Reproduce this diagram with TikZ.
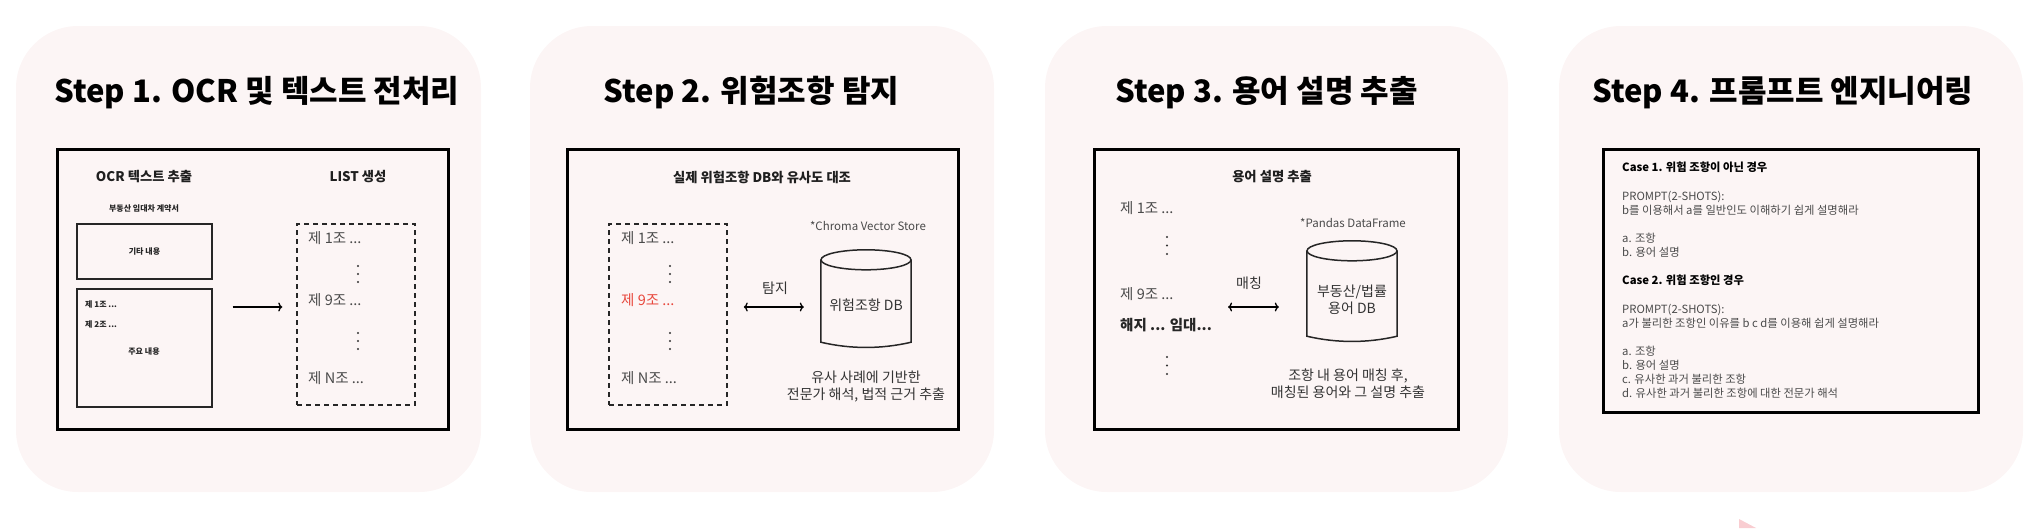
\documentclass[tikz,border=0pt]{standalone}
\usepackage{fontspec}
\setmainfont{Noto Sans CJK KR}
\usetikzlibrary{arrows.meta,positioning}
\definecolor{panelbg}{HTML}{FCF5F5}
\definecolor{txtgrey}{HTML}{4A4A4A}
\definecolor{hitred}{HTML}{E8483D}
\definecolor{tippink}{HTML}{F9CDD1}
\newcommand{\fsz}[2]{\fontsize{#1}{#2}\selectfont}
\tikzset{%
   panel/.style={
      fill=panelbg,
      rounded corners=62pt
   },
   title/.style={
      font=\fsz{31pt}{34pt}\bfseries,
      inner sep=0pt
   },
   frame/.style={
      draw=black,
      line width=3pt
   },
   head/.style={
      font=\fsz{13.3pt}{16pt}\bfseries,
      text=black!88,
      inner sep=0pt
   },
   tiny/.style={
      font=\fsz{8pt}{10pt}\bfseries,
      text=black!85,
      inner sep=0pt
   },
   sbox/.style={
      draw=black!85,
      line width=1.4pt
   },
   dbox/.style={
      draw=black!85,
      line width=1.5pt,
      dash pattern=on 5pt off 4pt
   },
   item/.style={
      font=\fsz{14.5pt}{17pt},
      text=txtgrey,
      anchor=west,
      inner sep=0pt
   },
   body/.style={
      font=\fsz{14pt}{17pt},
      text=black!80,
      align=center,
      inner sep=0pt
   },
   note/.style={
      font=\fsz{11.5pt}{13pt},
      text=txtgrey,
      inner sep=0pt
   },
   dbcyl/.style={
      minimum width=90pt,
      inner sep=0pt
   },
   cylline/.style={
      draw=black!85,
      line width=1.5pt
   },
   arr/.style={
      -{To[length=4pt,width=9pt]},
      line width=1.3pt
   },
   biarr/.style={
      {To[length=4pt,width=9pt]}-{To[length=4pt,width=9pt]},
      line width=1.3pt
   },
   vdot/.style={
      fill=black!80
   }
}

\begin{document}
\begin{tikzpicture}[x=1pt, y=-1pt]
\useasboundingbox (0,0) rectangle (2040,528);

% Step 1
\fill[panel] (16,26) rectangle (481,492);
\node[title] (t1) at (257,93) {Step 1. OCR 및 텍스트 전처리};
\draw[frame] (57,149) rectangle (448,429);
\node[head] (ocr) at (144,177) {OCR 텍스트 추출};
\node[head] (lst) at (358,177) {LIST 생성};
\node[tiny] (doc) at (144,209) {부동산 임대차 계약서};
\node[sbox, minimum width=135pt, minimum height=55pt] (etc) at (144.5,251.5) {};
\node[tiny] (etclbl) at (etc) {기타 내용};
\node[sbox, minimum width=135pt, minimum height=118pt] (main) at (144.5,348) {};
\node[tiny, anchor=west] (p1) at (85,304) {제 1조 ...};
\node[tiny, anchor=west] (p2) at (85,324) {제 2조 ...};
\node[tiny] (mainlbl) at (144,352) {주요 내용};
\node[dbox, minimum width=118pt, minimum height=181pt] (list) at (356,314.5) {};
\node[item] (l1) at (308,238) {제 1조 ...};
\node[item] (l9) at (308,300) {제 9조 ...};
\node[item] (ln) at (308,378) {제 N조 ...};
\foreach \y in {266,274,282,333,341,349} \fill[vdot] (358,\y) circle (1.1pt);
\draw[arr, transform canvas={yshift=-7pt}, shorten <=20pt, shorten >=14pt] (main.east |- l9) -- (list.west |- l9);

% Step 2
\fill[panel] (530,26) rectangle (994,492);
\node[title] (t2) at (751.5,93) {Step 2. 위험조항 탐지};
\draw[frame] (567,149) rectangle (958,429);
\node[head] (cmp) at (762,177) {실제 위험조항 DB와 유사도 대조};
\node[dbox, minimum width=118pt, minimum height=181pt] (cand) at (668,314.5) {};
\node[item] (c1) at (621,238) {제 1조 ...};
\node[item, text=hitred] (c9) at (621,300) {제 9조 ...};
\node[item] (cn) at (621,378) {제 N조 ...};
\foreach \y in {266,274,282,333,341,349} \fill[vdot] (670,\y) circle (1.1pt);
\node[note] (chroma) at (868,226) {*Chroma Vector Store};
\node[dbcyl, minimum height=99pt] (riskdb) at (866,299.5) {};
\draw[cylline] ([yshift=-10pt]riskdb.north) ellipse [x radius=45pt, y radius=10pt];
\draw[cylline] ([yshift=-10pt]riskdb.north west) -- ([yshift=7pt]riskdb.south west)
   .. controls ([xshift=30pt]riskdb.south west) and ([xshift=-30pt]riskdb.south east) .. ([yshift=7pt]riskdb.south east)
   -- ([yshift=-10pt]riskdb.north east);
\node[body] (risklbl) at (866,305) {위험조항 DB};
\node[body] (detect) at (775,288) {탐지};
\draw[biarr, transform canvas={yshift=-2pt}, shorten <=16pt, shorten >=17pt] (cand.east |- risklbl) -- (riskdb.west |- risklbl);
\node[body] (expl) at (866,386.5) {유사 사례에 기반한\\전문가 해석, 법적 근거 추출};

% Step 3
\fill[panel] (1045,26) rectangle (1508,492);
\node[title] (t3) at (1266.5,93) {Step 3. 용어 설명 추출};
\draw[frame] (1094,149) rectangle (1458,429);
\node[head] (term) at (1272,177) {용어 설명 추출};
\node[item] (a1) at (1120,208) {제 1조 ...};
\node[item] (a9) at (1120,294) {제 9조 ...};
\node[item, font=\fsz{14.5pt}{17pt}\bfseries, text=black!85] (hit) at (1120,325) {해지 ... 임대...};
\foreach \y in {237,245.5,254,357,365.5,374} \fill[vdot] (1167,\y) circle (1.1pt);
\node[note] (pandas) at (1353,223) {*Pandas DataFrame};
\node[dbcyl, minimum height=102pt] (termdb) at (1352,292) {};
\draw[cylline] ([yshift=-10pt]termdb.north) ellipse [x radius=45pt, y radius=10pt];
\draw[cylline] ([yshift=-10pt]termdb.north west) -- ([yshift=7pt]termdb.south west)
   .. controls ([xshift=30pt]termdb.south west) and ([xshift=-30pt]termdb.south east) .. ([yshift=7pt]termdb.south east)
   -- ([yshift=-10pt]termdb.north east);
\node[body] (termlbl) at (1352,299.5) {부동산/법률\\용어 DB};
\node[body] (match) at (1249,283) {매칭};
\draw[biarr, transform canvas={yshift=-15pt}, shorten <=16pt, shorten >=28pt] (hit.east |- termdb) -- (termdb.west);
\node[body] (mexpl) at (1348,383.5) {조항 내 용어 매칭 후,\\매칭된 용어와 그 설명 추출};

% Step 4
\fill[panel] (1559,26) rectangle (2023,492);
\node[title] (t4) at (1783,93) {Step 4. 프롬프트 엔지니어링};
\draw[frame] (1603,149) rectangle (1978,412);
\node[font=\fsz{11.3pt}{14.125pt}, text=txtgrey, align=left, anchor=north west, inner sep=0pt] (prompt) at (1622,162) {%
   \textbf{\textcolor{black}{Case 1. 위험 조항이 아닌 경우}}\\[14.125pt]
   PROMPT(2-SHOTS):\\
   b를 이용해서 a를 일반인도 이해하기 쉽게 설명해라\\[14.125pt]
   a. 조항\\
   b. 용어 설명\\[14.125pt]
   \textbf{\textcolor{black}{Case 2. 위험 조항인 경우}}\\[14.125pt]
   PROMPT(2-SHOTS):\\
   a가 불리한 조항인 이유를 b c d를 이용해 쉽게 설명해라\\[14.125pt]
   a. 조항\\
   b. 용어 설명\\
   c. 유사한 과거 불리한 조항\\
   d. 유사한 과거 불리한 조항에 대한 전문가 해석};
\fill[tippink] (1739,519) -- (1756,528) -- (1739,528) -- cycle;
\end{tikzpicture}
\end{document}
